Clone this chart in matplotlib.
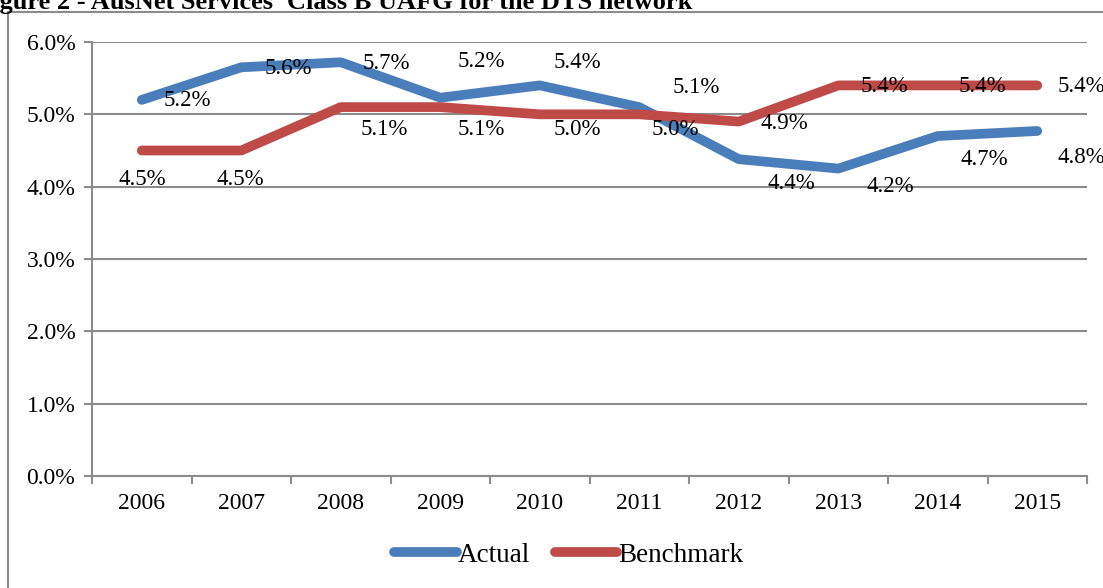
import matplotlib.pyplot as plt
from matplotlib.lines import Line2D
from matplotlib.ticker import FuncFormatter

# data
anos = ['2006', '2007', '2008', '2009', '2010', '2011', '2012', '2013', '2014', '2015']
actual = [5.2, 5.65, 5.72, 5.23, 5.4, 5.1, 4.38, 4.25, 4.7, 4.77]
benchmark = [4.5, 4.5, 5.1, 5.1, 5.0, 5.0, 4.9, 5.4, 5.4, 5.4]
lbl_actual = ['5.2%', '5.6%', '5.7%', '5.2%', '5.4%', '5.1%', '4.4%', '4.2%', '4.7%', '4.8%']
lbl_bench = ['4.5%', '4.5%', '5.1%', '5.1%', '5.0%', '5.0%', '4.9%', '5.4%', '5.4%', '5.4%']

# label offsets (pixels, like Excel placed them)
off_actual = [(46, -1), (47, -1), (46, -1), (41, 36), (38, 23), (57, 20),
              (53, -24), (52, -18), (47, -23), (44, -27)]
off_bench = [(1, -29), (-1, -29), (44, -22), (41, -22), (38, -15), (36, -15),
             (46, -2), (46, -1), (45, -1), (44, -1)]

azul = '#4a7ebb'
vermelho = '#be4b48'
cinza = '#8c8c8c'
fonte = 'Liberation Serif'

fig = plt.figure(figsize=(11.03, 5.88), dpi=100)
ax = fig.add_axes([92/1103, 1-476/588, (1087-92)/1103, (476-42)/588])

x = list(range(len(anos)))
ax.plot(x, actual, color=azul, lw=7, solid_capstyle='round', solid_joinstyle='round', label='Actual', zorder=3)
ax.plot(x, benchmark, color=vermelho, lw=7, solid_capstyle='round', solid_joinstyle='round', label='Benchmark', zorder=3)

for i in x:
    ax.annotate(lbl_actual[i], (i, actual[i]), xytext=off_actual[i], textcoords='offset pixels',
                ha='center', va='center', fontsize=16.5, family=fonte, zorder=4, annotation_clip=False)
    ax.annotate(lbl_bench[i], (i, benchmark[i]), xytext=off_bench[i], textcoords='offset pixels',
                ha='center', va='center', fontsize=16.5, family=fonte, zorder=4, annotation_clip=False)

ax.set_xlim(-0.5, len(anos) - 0.5)
ax.set_ylim(0, 6)
ax.set_yticks([0, 1, 2, 3, 4, 5, 6])
ax.yaxis.set_major_formatter(FuncFormatter(lambda v, p: f'{v:.1f}%'))
ax.set_xticks(x)
ax.set_xticklabels(anos)
ax.set_xticks([i - 0.5 for i in range(len(anos) + 1)], minor=True)
ax.tick_params(axis='x', which='major', length=0, pad=12)
ax.tick_params(axis='x', which='minor', length=6, width=1.5, color=cinza, direction='out')
ax.tick_params(axis='y', length=6, width=1.5, color=cinza, pad=6)
for lab in ax.get_xticklabels() + ax.get_yticklabels():
    lab.set_family(fonte)
    lab.set_fontsize(17)

ax.grid(axis='y', color=cinza, lw=1.5)
ax.set_axisbelow(True)
for lado in ['top', 'right']:
    ax.spines[lado].set_visible(False)
for lado in ['left', 'bottom']:
    ax.spines[lado].set_color(cinza)
    ax.spines[lado].set_linewidth(1.5)

leg = fig.legend(loc='center', bbox_to_anchor=(569/1103, 1-555/588), ncol=2, frameon=False,
                 prop={'family': fonte, 'size': 19.5}, handlelength=2.3, handletextpad=0.05,
                 columnspacing=0.9)

# moldura do grafico
fig.add_artist(Line2D([8/1103, 8/1103, 1.01], [-0.01, 1-12/588, 1-12/588],
                      transform=fig.transFigure, color=cinza, lw=1.5))

fig.text(-24/1103, 1-9/588, "Figure 2 - AusNet Services' Class B UAFG for the DTS network",
         family=fonte, weight='bold', fontsize=19, ha='left', va='baseline')

fig.savefig('out.png', dpi=100)
